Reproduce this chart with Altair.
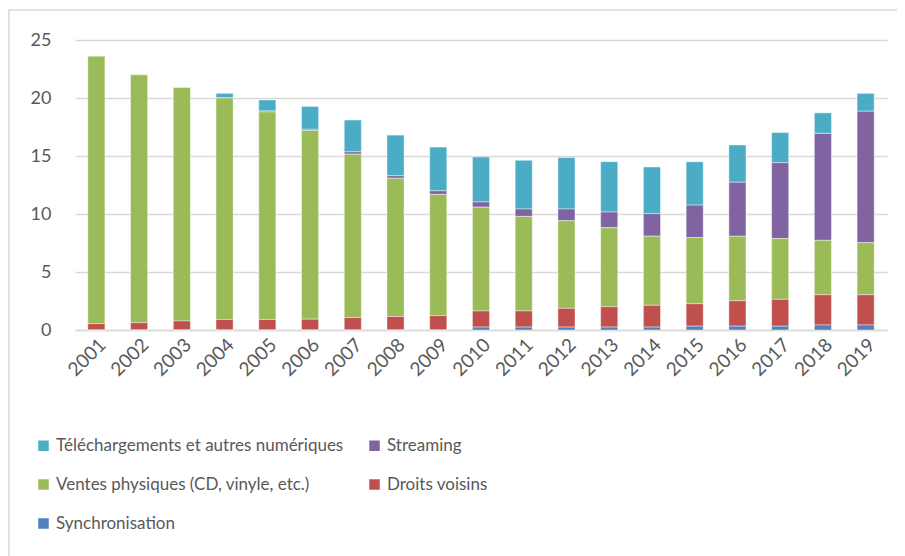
import altair as alt
import pandas as pd

years = [str(y) for y in range(2001, 2020)]

synchronisation = [0, 0, 0, 0, 0, 0, 0, 0, 0, 0.25, 0.25, 0.25, 0.25, 0.25, 0.33, 0.33, 0.33, 0.43, 0.43]
droits_voisins = [0.55, 0.63, 0.78, 0.9, 0.9, 0.93, 1.07, 1.16, 1.24, 1.39, 1.39, 1.62, 1.76, 1.88, 1.93, 2.19, 2.31, 2.61, 2.61]
ventes_physiques = [23.05, 21.37, 20.12, 19.1, 17.9, 16.27, 14.09, 11.92, 10.45, 8.95, 8.15, 7.55, 6.81, 5.96, 5.71, 5.56, 5.24, 4.69, 4.49]
streaming = [0, 0, 0, 0, 0.08, 0.1, 0.2, 0.22, 0.31, 0.45, 0.64, 1.01, 1.35, 1.94, 2.8, 4.66, 6.54, 9.22, 11.33]
telechargements = [0, 0, 0, 0.4, 0.95, 1.97, 2.74, 3.5, 3.77, 3.88, 4.2, 4.43, 4.34, 4.02, 3.73, 3.21, 2.6, 1.77, 1.54]

series_names = [
    "Téléchargements et autres numériques",
    "Streaming",
    "Ventes physiques (CD, vinyle, etc.)",
    "Droits voisins",
    "Synchronisation",
]
series_colors = ["#4BACC6", "#8064A2", "#9BBB59", "#C0504D", "#4F81BD"]
stack_order = {
    "Synchronisation": 0,
    "Droits voisins": 1,
    "Ventes physiques (CD, vinyle, etc.)": 2,
    "Streaming": 3,
    "Téléchargements et autres numériques": 4,
}
series_values = {
    "Téléchargements et autres numériques": telechargements,
    "Streaming": streaming,
    "Ventes physiques (CD, vinyle, etc.)": ventes_physiques,
    "Droits voisins": droits_voisins,
    "Synchronisation": synchronisation,
}

rows = []
for name in series_names:
    for y, v in zip(years, series_values[name]):
        rows.append({"annee": y, "serie": name, "valeur": v, "ordre": stack_order[name]})
df = pd.DataFrame(rows)

FONT = "Lato"
GREY = "#595959"

bars = alt.Chart(df).mark_bar(stroke="#FFFFFF", strokeWidth=0.6, strokeOpacity=0.7).encode(
    x=alt.X(
        "annee:N",
        title=None,
        sort=years,
        scale=alt.Scale(paddingInner=0.6, paddingOuter=0.3),
        axis=alt.Axis(
            labelAngle=-45,
            labelAlign="right",
            labelBaseline="top",
            labelFontSize=19,
            labelColor=GREY,
            labelFont=FONT,
            ticks=False,
            domainColor="#D9D9D9",
            domainWidth=1.5,
            labelPadding=5,
        ),
    ),
    y=alt.Y(
        "valeur:Q",
        title=None,
        stack="zero",
        scale=alt.Scale(domain=[0, 25], nice=False),
        axis=alt.Axis(
            values=[0, 5, 10, 15, 20, 25],
            labelFontSize=18,
            labelColor=GREY,
            labelFont=FONT,
            ticks=False,
            domain=False,
            gridColor="#D9D9D9",
            gridWidth=1.5,
            labelPadding=24,
        ),
    ),
    color=alt.Color(
        "serie:N",
        scale=alt.Scale(domain=series_names, range=series_colors),
        legend=alt.Legend(
            title=None,
            orient="none",
            direction="horizontal",
            legendX=-40,
            legendY=397,
            columns=2,
            symbolType="square",
            symbolSize=110,
            symbolStrokeWidth=0,
            labelFontSize=17,
            labelFont=FONT,
            labelColor=GREY,
            labelLimit=400,
            columnPadding=22,
            rowPadding=21,
            labelOffset=4,
            padding=0,
        ),
    ),
    order=alt.Order("ordre:Q", sort="ascending"),
)

frame = alt.Chart(pd.DataFrame({"k": [0]})).mark_rect(
    fill=None, stroke="#D9D9D9", strokeWidth=1.5
).encode(
    x=alt.value(-66), x2=alt.value(860), y=alt.value(-30), y2=alt.value(600)
)

chart = (
    alt.layer(bars, frame)
    .properties(
        width=812,
        height=290,
        padding={"left": 67, "top": 32, "right": 10, "bottom": 226},
        autosize=alt.AutoSizeParams(type="none"),
        background="#FFFFFF",
    )
    .configure_view(stroke=None)
)

chart.save("out.html", embed_options={"renderer": "svg", "actions": False})
